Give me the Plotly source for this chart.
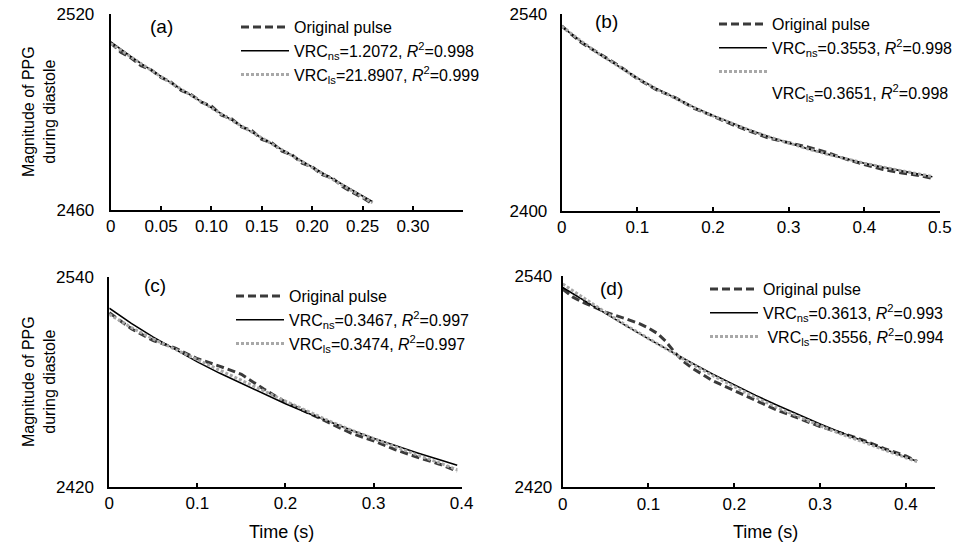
import plotly.graph_objects as go

# ---------------- data ----------------
# Panel (a)
t_a = [0.00, 0.01, 0.02, 0.03, 0.04, 0.05, 0.06, 0.07, 0.08, 0.09, 0.10, 0.11, 0.12, 0.13,
       0.14, 0.15, 0.16, 0.17, 0.18, 0.19, 0.20, 0.21, 0.22, 0.23, 0.24, 0.25, 0.26]
orig_a = [2511.2, 2508.3, 2506.6, 2504.2, 2502.9, 2500.6, 2499.1, 2496.6, 2495.3, 2493.0, 2491.8,
          2489.0, 2487.9, 2485.4, 2484.3, 2481.6, 2480.6, 2478.0, 2476.9, 2474.3, 2473.2, 2470.8,
          2469.8, 2467.2, 2465.4, 2463.8, 2461.8]
ns_a = [2511.5, 2509.2, 2507.0, 2504.9, 2502.85, 2500.85, 2498.9, 2496.95, 2495.05, 2493.15,
        2491.25, 2489.4, 2487.55, 2485.7, 2483.85, 2482.05, 2480.25, 2478.45, 2476.65, 2474.85,
        2473.05, 2471.3, 2469.55, 2467.8, 2466.05, 2464.3, 2462.55]
ls_a = [2511.0, 2508.9, 2506.8, 2504.8, 2502.8, 2500.8, 2498.85, 2496.9, 2495.0, 2493.1, 2491.2,
        2489.35, 2487.5, 2485.65, 2483.8, 2482.0, 2480.2, 2478.4, 2476.6, 2474.8, 2473.0, 2471.2,
        2469.4, 2467.6, 2465.8, 2464.0, 2462.2]

# Panel (b)
t_b = [0.0, 0.025, 0.05, 0.075, 0.1, 0.125, 0.15, 0.175, 0.2, 0.225, 0.25, 0.275, 0.3, 0.325,
       0.35, 0.375, 0.4, 0.425, 0.45, 0.475, 0.49]
orig_b = [2531.5, 2520.0, 2511.8, 2503.5, 2494.0, 2486.2, 2480.6, 2473.0, 2467.5, 2461.5, 2456.5,
          2451.6, 2448.5, 2445.5, 2441.8, 2437.0, 2433.0, 2429.5, 2427.0, 2425.0, 2423.2]
ns_b = [2531.0, 2520.8, 2511.3, 2502.6, 2494.5, 2487.0, 2480.1, 2473.7, 2467.8, 2462.3, 2457.3,
        2452.6, 2448.3, 2444.3, 2440.6, 2437.1, 2434.0, 2431.0, 2428.3, 2425.8, 2424.4]
ls_b = [2531.3, 2521.0, 2511.4, 2502.6, 2494.4, 2486.8, 2479.9, 2473.5, 2467.6, 2462.1, 2457.1,
        2452.5, 2448.2, 2444.2, 2440.5, 2437.1, 2434.0, 2431.1, 2428.4, 2425.9, 2424.5]

# Panel (c)
t_c = [0.0, 0.025, 0.05, 0.075, 0.1, 0.125, 0.15, 0.175, 0.2, 0.225, 0.25, 0.275, 0.3, 0.325,
       0.35, 0.375, 0.395]
orig_c = [2519.5, 2510.3, 2503.5, 2499.3, 2493.2, 2489.0, 2484.3, 2476.0, 2468.5, 2462.5, 2456.8,
          2450.6, 2446.4, 2441.2, 2437.0, 2433.0, 2429.0]
ns_c = [2522.0, 2513.4, 2505.5, 2498.3, 2491.4, 2485.0, 2479.1, 2473.3, 2467.5, 2462.2, 2457.2,
        2452.4, 2447.8, 2443.5, 2439.4, 2435.5, 2432.4]
ls_c = [2518.5, 2511.0, 2504.4, 2498.6, 2492.6, 2486.8, 2481.2, 2475.0, 2469.0, 2463.2, 2457.6,
        2452.4, 2447.6, 2442.8, 2438.2, 2433.8, 2429.8]

# Panel (d)
t_d_orig = [0.0, 0.012, 0.025, 0.05, 0.075, 0.09, 0.1, 0.11, 0.12, 0.13, 0.14, 0.15, 0.175, 0.2,
            0.225, 0.25, 0.275, 0.3, 0.325, 0.35, 0.375, 0.4, 0.413]
orig_d = [2532.5, 2528.0, 2524.8, 2519.5, 2515.5, 2512.8, 2510.5, 2507.5, 2503.0, 2497.0, 2491.8,
          2488.0, 2480.5, 2474.8, 2469.2, 2463.8, 2459.2, 2454.5, 2450.8, 2446.8, 2442.0, 2437.8,
          2434.8]
t_d = [0.0, 0.025, 0.05, 0.075, 0.1, 0.125, 0.15, 0.175, 0.2, 0.225, 0.25, 0.275, 0.3, 0.325,
       0.35, 0.375, 0.4, 0.413]
ns_d = [2533.5, 2526.0, 2518.7, 2511.4, 2504.3, 2497.4, 2490.7, 2484.2, 2478.0, 2472.2, 2466.6,
        2461.2, 2456.0, 2451.0, 2446.2, 2441.6, 2437.0, 2434.8]
ls_d = [2535.5, 2527.2, 2519.3, 2511.7, 2504.4, 2497.4, 2490.2, 2483.4, 2477.0, 2471.0, 2465.3,
        2460.0, 2455.0, 2450.2, 2445.6, 2441.2, 2436.8, 2434.6]

# legend texts
names_a = ["Original pulse", "VRC<sub>ns</sub>=1.2072, <i>R</i><sup>2</sup>=0.998",
           "VRC<sub>ls</sub>=21.8907, <i>R</i><sup>2</sup>=0.999"]
names_b = ["Original pulse", "VRC<sub>ns</sub>=0.3553, <i>R</i><sup>2</sup>=0.998",
           "&nbsp;<br>VRC<sub>ls</sub>=0.3651, <i>R</i><sup>2</sup>=0.998"]
names_c = ["Original pulse", "VRC<sub>ns</sub>=0.3467, <i>R</i><sup>2</sup>=0.997",
           "VRC<sub>ls</sub>=0.3474, <i>R</i><sup>2</sup>=0.997"]
names_d = ["Original pulse", "VRC<sub>ns</sub>=0.3613, <i>R</i><sup>2</sup>=0.993",
           " VRC<sub>ls</sub>=0.3556, <i>R</i><sup>2</sup>=0.994"]

# x tick labels
xt_a = [0, 0.05, 0.10, 0.15, 0.20, 0.25, 0.30]
xt_a_txt = ["0", "0.05", "0.10", "0.15", "0.20", "0.25", "0.30"]
xt_b = [0, 0.1, 0.2, 0.3, 0.4, 0.5]
xt_b_txt = ["0", "0.1", "0.2", "0.3", "0.4", "0.5"]
xt_c = [0, 0.1, 0.2, 0.3, 0.4]
xt_c_txt = ["0", "0.1", "0.2", "0.3", "0.4"]
xt_d = [0, 0.1, 0.2, 0.3, 0.4]
xt_d_txt = ["0", "0.1", "0.2", "0.3", "0.4"]

y_title = "Magnitude of PPG<br>during diastole"
x_title = "Time (s)"

# ---------------- figure ----------------
W, H = 954, 547
FONT = "Arial, Liberation Sans, sans-serif"
ORIG_STYLE = dict(color="#3a3a3a", width=3, dash="8px,4px")
NS_STYLE = dict(color="#000000", width=1.6)
LS_STYLE = dict(color="#a8a8a8", width=3, dash="3px,2px")

fig = go.Figure()

panels = [
    ("x", "y", "legend", t_a, orig_a, t_a, ns_a, ls_a, names_a),
    ("x2", "y2", "legend2", t_b, orig_b, t_b, ns_b, ls_b, names_b),
    ("x3", "y3", "legend3", t_c, orig_c, t_c, ns_c, ls_c, names_c),
    ("x4", "y4", "legend4", t_d_orig, orig_d, t_d, ns_d, ls_d, names_d),
]
for xa, ya, lg, to, o, tf, ns, ls, nm in panels:
    fig.add_trace(go.Scatter(x=to, y=o, mode="lines", line=ORIG_STYLE, name=nm[0],
                             xaxis=xa, yaxis=ya, legend=lg))
    fig.add_trace(go.Scatter(x=tf, y=ns, mode="lines", line=NS_STYLE, name=nm[1],
                             xaxis=xa, yaxis=ya, legend=lg))
    fig.add_trace(go.Scatter(x=tf, y=ls, mode="lines", line=LS_STYLE, name=nm[2],
                             xaxis=xa, yaxis=ya, legend=lg))


def px_x(p):
    return p / W


def px_y(p):
    return 1 - p / H


axis_common = dict(showline=True, linecolor="black", linewidth=2, showgrid=False, zeroline=False,
                   ticks="inside", ticklen=4, tickwidth=1.5, tickcolor="black",
                   tickfont=dict(family=FONT, size=17, color="black"), tickmode="array")

fig.update_layout(
    width=W, height=H,
    margin=dict(l=0, r=0, t=0, b=0, autoexpand=False),
    paper_bgcolor="white", plot_bgcolor="white",
    font=dict(family=FONT, size=16, color="black"),
    xaxis=dict(axis_common, domain=[px_x(110.7), px_x(463.3)], range=[0, 0.35],
               tickvals=xt_a, ticktext=xt_a_txt, anchor="y"),
    yaxis=dict(axis_common, domain=[px_y(210), px_y(14)], range=[2460, 2520.01],
               tickvals=[2460, 2520], anchor="x", ticklabelstandoff=11),
    xaxis2=dict(axis_common, domain=[px_x(561.7), px_x(940)], range=[0, 0.5001],
                tickvals=xt_b, ticktext=xt_b_txt, anchor="y2"),
    yaxis2=dict(axis_common, domain=[px_y(211), px_y(14)], range=[2400, 2540.01],
                tickvals=[2400, 2540], anchor="x2", ticklabelstandoff=9),
    xaxis3=dict(axis_common, domain=[px_x(109.3), px_x(461.7)], range=[0, 0.4001],
                tickvals=xt_c, ticktext=xt_c_txt, anchor="y3"),
    yaxis3=dict(axis_common, domain=[px_y(487), px_y(276.7)], range=[2420, 2540.01],
                tickvals=[2420, 2540], anchor="x3", ticklabelstandoff=10),
    xaxis4=dict(axis_common, domain=[px_x(562.7), px_x(935)], range=[0, 0.434],
                tickvals=xt_d, ticktext=xt_d_txt, anchor="y4"),
    yaxis4=dict(axis_common, domain=[px_y(487.3), px_y(276)], range=[2420, 2540.01],
                tickvals=[2420, 2540], anchor="x4", ticklabelstandoff=5),
)

leg_common = dict(bgcolor="rgba(0,0,0,0)", borderwidth=0, xanchor="left", yanchor="top",
                  font=dict(family=FONT, size=16, color="black"), itemwidth=48,
                  tracegroupgap=0, valign="top")
fig.update_layout(
    legend=dict(leg_common, x=px_x(236), y=px_y(10)),
    legend2=dict(leg_common, x=px_x(714), y=px_y(7)),
    legend3=dict(leg_common, x=px_x(231), y=px_y(279)),
    legend4=dict(leg_common, x=px_x(705), y=px_y(272)),
    showlegend=True,
)

labels = [("(a)", 161.7, 26.7), ("(b)", 606.7, 21.7), ("(c)", 155, 285), ("(d)", 611.7, 288.3)]
for txt, xp, yp in labels:
    fig.add_annotation(text=txt, x=px_x(xp), y=px_y(yp), xref="paper", yref="paper",
                       showarrow=False, xanchor="center", yanchor="middle",
                       font=dict(family=FONT, size=19, color="black"))
for xp in (281, 765):
    fig.add_annotation(text=x_title, x=px_x(xp), y=px_y(532), xref="paper", yref="paper",
                       showarrow=False, xanchor="center", yanchor="middle",
                       font=dict(family=FONT, size=18, color="black"))
for yp in (112, 382):
    fig.add_annotation(text=y_title, x=px_x(39), y=px_y(yp), xref="paper", yref="paper",
                       showarrow=False, xanchor="center", yanchor="middle", textangle=-90,
                       font=dict(family=FONT, size=16, color="black"))

fig.write_html("out.html")
